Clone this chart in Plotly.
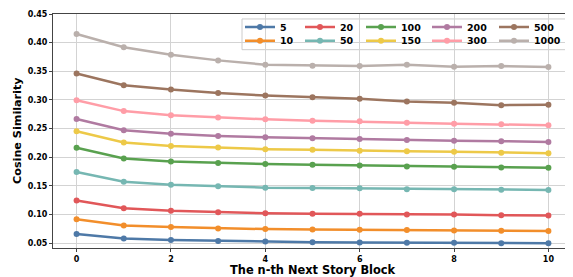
import plotly.graph_objects as go

x_blocks = [0, 1, 2, 3, 4, 5, 6, 7, 8, 9, 10]
series_names = ["5", "10", "20", "50", "100", "150", "200", "300", "500", "1000"]
s5 = [0.0657, 0.0577, 0.0553, 0.0536, 0.0526, 0.0514, 0.0509, 0.0503, 0.0503, 0.0497, 0.0497]
s10 = [0.0917, 0.0807, 0.0778, 0.0755, 0.0743, 0.0738, 0.0732, 0.0726, 0.0720, 0.0715, 0.0709]
s20 = [0.1241, 0.1108, 0.1062, 0.1038, 0.1021, 0.1010, 0.1010, 0.0998, 0.0998, 0.0986, 0.0981]
s50 = [0.1740, 0.1571, 0.1519, 0.1490, 0.1467, 0.1462, 0.1455, 0.1438, 0.1438, 0.1432, 0.1427]
s100 = [0.2165, 0.1976, 0.1924, 0.1896, 0.1878, 0.1866, 0.1855, 0.1837, 0.1832, 0.1820, 0.1814]
s150 = [0.2451, 0.2254, 0.2196, 0.2167, 0.2139, 0.2127, 0.2110, 0.2104, 0.2092, 0.2075, 0.2070]
s200 = [0.2665, 0.2469, 0.2410, 0.2370, 0.2347, 0.2330, 0.2318, 0.2300, 0.2288, 0.2278, 0.2266]
s300 = [0.2995, 0.2804, 0.2730, 0.2694, 0.2660, 0.2636, 0.2625, 0.2601, 0.2584, 0.2573, 0.2556]
s500 = [0.3460, 0.3255, 0.3180, 0.3120, 0.3076, 0.3047, 0.3018, 0.2972, 0.2948, 0.2908, 0.2915]
s1000 = [0.4150, 0.3920, 0.3790, 0.3690, 0.3615, 0.3597, 0.3590, 0.3615, 0.3580, 0.3590, 0.3573]
series_values = [s5, s10, s20, s50, s100, s150, s200, s300, s500, s1000]
colors = ["#4E79A7", "#F28E2B", "#E15759", "#76B7B2", "#59A14F",
          "#EDC948", "#B07AA1", "#FF9DA7", "#9C755F", "#BAB0AC"]

FONT = "DejaVu Sans"
# page geometry (body adds 8px offset): plot area spans page x 53..572, y 12..248
PX0, PX1, PY0, PY1 = 53, 572, 12, 248
BODY = 8
W, H = 573, 277
def px2paper_x(p):
    return (p - PX0) / (PX1 - PX0)
def px2paper_y(p):
    return (PY1 - p) / (PY1 - PY0)

# legend: 5 columns x 2 rows, filled column by column
col_text_x = [282, 342, 403, 469, 536]
row_y = [25, 39]
TEXT_OFFSET = 42

fig = go.Figure()
legend_layouts = {}
for i, (name, vals, col) in enumerate(zip(series_names, series_values, colors)):
    lg = "legend" if i == 0 else f"legend{i + 1}"
    fig.add_trace(go.Scatter(
        x=x_blocks, y=vals, name=name, mode="lines+markers",
        line=dict(color=col, width=2.5),
        marker=dict(color=col, size=6),
        legend=lg, showlegend=True,
    ))
    c, r = divmod(i, 2)
    legend_layouts[lg] = dict(
        x=px2paper_x(col_text_x[c] - TEXT_OFFSET), y=px2paper_y(row_y[r]),
        xanchor="left", yanchor="middle", orientation="v",
        bgcolor="rgba(0,0,0,0)", borderwidth=0,
        font=dict(family=FONT, size=9.5, color="black", weight="bold"),
        itemwidth=30,
    )

axis_common = dict(
    showline=True, linecolor="#444", linewidth=1, mirror=True,
    showgrid=True, gridcolor="#d3d3d3", gridwidth=1,
    ticks="outside", ticklen=3, tickcolor="#444",
    tickfont=dict(family=FONT, size=8, color="black", weight="bold"),
    zeroline=False, automargin=False,
)
fig.update_xaxes(range=[-0.5, 10.5], tickvals=[0, 2, 4, 6, 8, 10], **axis_common)
fig.update_yaxes(
    range=[0.0413, 0.45], tickvals=[0.05, 0.10, 0.15, 0.20, 0.25, 0.30, 0.35, 0.40, 0.45],
    tickformat=".2f", **axis_common,
)

fig.update_layout(
    width=W, height=H, showlegend=True,
    margin=dict(l=PX0 - BODY, r=W + BODY - PX1, t=PY0 - BODY, b=H + BODY - PY1),
    plot_bgcolor="white", paper_bgcolor="white",
    font=dict(family=FONT, color="black"),
    shapes=[dict(
        type="rect", xref="paper", yref="paper", layer="below",
        x0=px2paper_x(242), x1=px2paper_x(567),
        y0=px2paper_y(48), y1=px2paper_y(17),
        fillcolor="rgba(255,255,255,0.85)", line=dict(color="#cccccc", width=1),
    )],
    annotations=[
        dict(text="<b>The n-th Next Story Block</b>", xref="paper", yref="paper",
             x=0.5, y=px2paper_y(270.5), xanchor="center", yanchor="middle",
             showarrow=False, font=dict(family=FONT, size=11.4, color="black")),
        dict(text="<b>Cosine Similarity</b>", xref="paper", yref="paper",
             x=px2paper_x(17), y=0.5, xanchor="center", yanchor="middle",
             textangle=-90, showarrow=False, font=dict(family=FONT, size=11.2, color="black")),
    ],
    **legend_layouts,
)
fig.write_html("out.html")
